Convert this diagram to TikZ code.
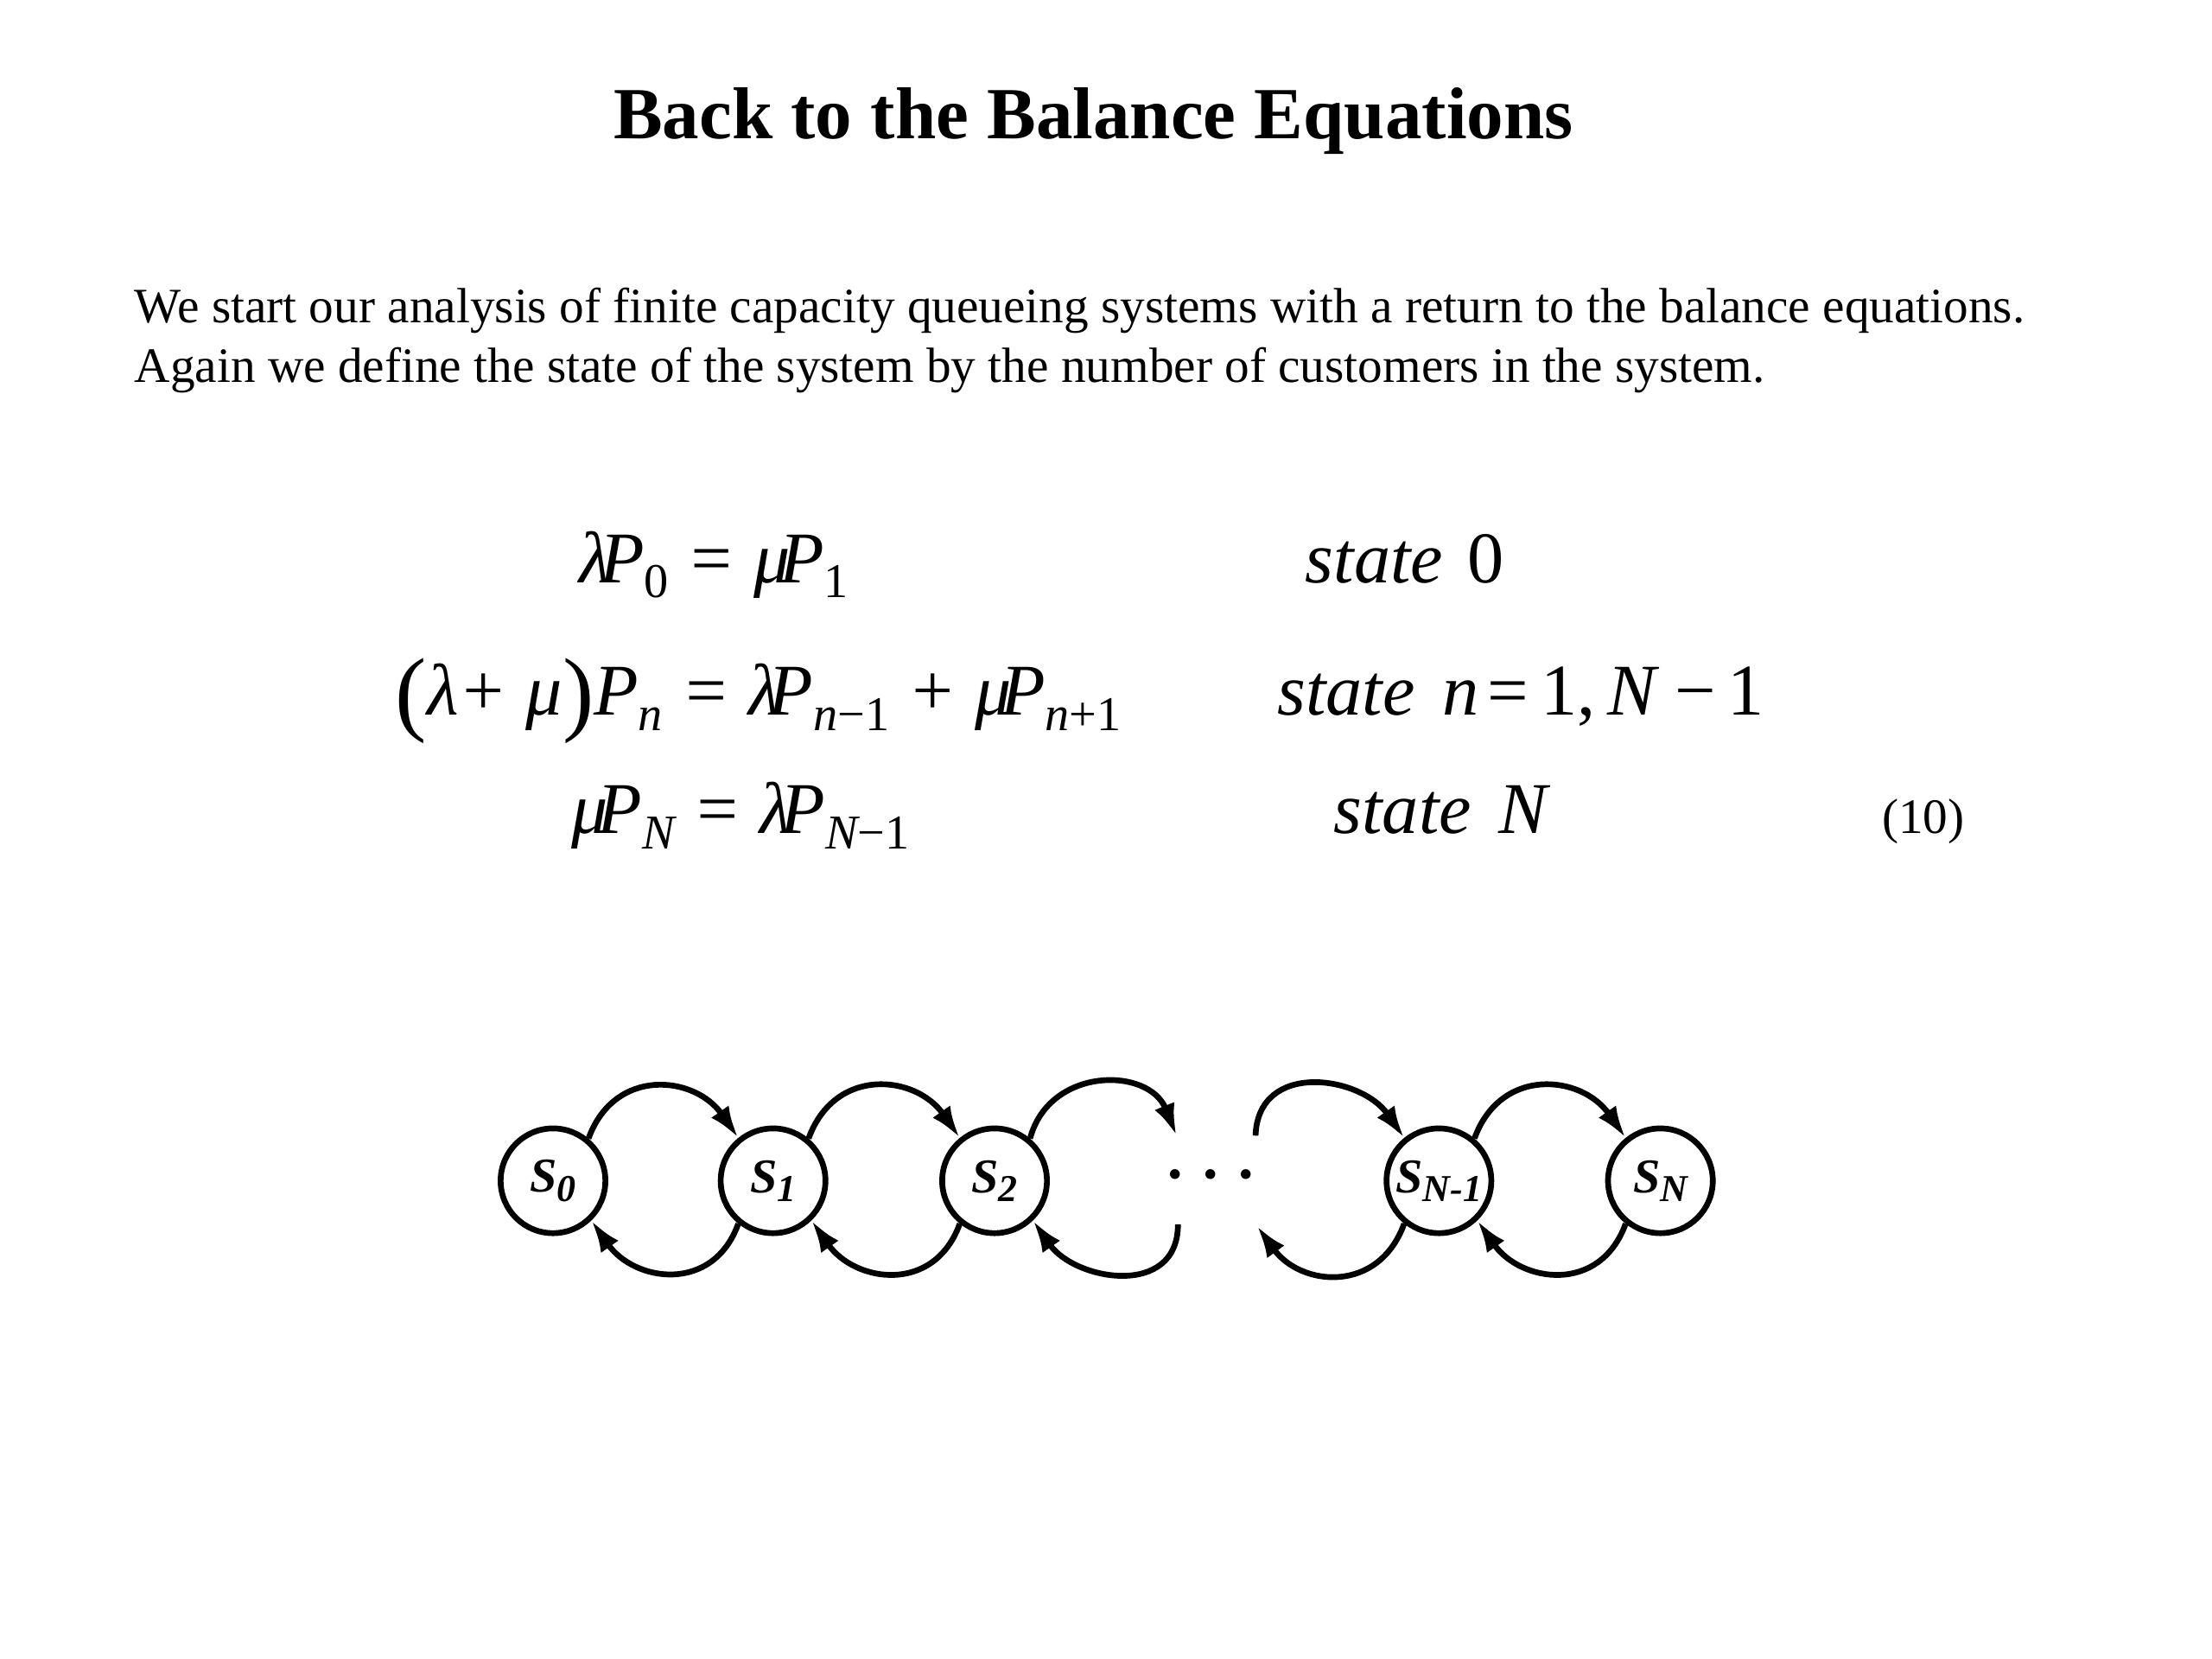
\documentclass[tikz,border=0pt]{standalone}
\usepackage{fontspec}
\setmainfont{Liberation Serif}
\usetikzlibrary{arrows.meta}

\newcommand{\lo}[1]{\raisebox{-0.45ex}{\fontsize{16}{16}\selectfont #1}}
\newcommand{\ssub}[1]{\raisebox{-0.4ex}{\fontsize{12.5}{12.5}\selectfont #1}}
\newcommand{\bigpar}[1]{\raisebox{-0.12em}{\fontsize{31}{31}\selectfont\upshape #1}}
\newcommand{\tuck}{\kern-0.15em}

\tikzset{
  state/.style={circle, draw, line width=1.9pt, minimum size=34.5pt, inner sep=0pt,
    font=\fontsize{16}{16}\selectfont\bfseries\itshape},
  flow/.style={line width=1.9pt, -{Latex[length=10.5pt,width=7pt]}},
  eqn/.style={anchor=base west, inner sep=0pt, font=\fontsize{24}{24}\selectfont\itshape},
}

\begin{document}
\begin{tikzpicture}[x=0.0163265cm,y=0.0163265cm]
  \useasboundingbox (0,0) rectangle (1568,-1176);

  \node[anchor=base, inner sep=0pt, font=\fontsize{24.2}{24.2}\selectfont\bfseries]
    (title) at (775,-98) {Back to the Balance Equations};

  \node[anchor=base west, inner sep=0pt, font=\fontsize{16.3}{19.6}\selectfont] (textA) at (95,-229)
    {We start our analysis of finite capacity queueing systems with a return to the balance equations.};
  \node[anchor=base west, inner sep=0pt, font=\fontsize{16.3}{19.6}\selectfont] (textB) at (95,-271)
    {Again we define the state of the system by the number of customers in the system.};

  % balance equations
  \node[eqn] (eqzero) at (410,-413) {λ\tuck P\lo{\upshape 0} = μ\tuck P\lo{\upshape 1}};
  \node[eqn] (eqmid) at (280,-507)
    {\bigpar{(}λ+ μ\bigpar{)}P\lo{n} = λ\tuck P\lo{n\upshape−1} + μ\tuck P\lo{n\upshape+1}};
  \node[eqn] (eqlast) at (405,-591) {μ\tuck P\lo{N} = λ\tuck P\lo{N\upshape−1}};

  \node[eqn] (stzero) at (925,-413) {state\kern8pt{\upshape 0}};
  \node[eqn] (stmid) at (905,-507)
    {state\kern9pt n\kern3pt{\upshape=\kern4pt1,}\kern4pt N\kern6pt{\upshape −\kern4pt1}};
  \node[eqn] (stlast) at (945,-591) {state\kern9pt N};

  \node[anchor=base east, inner sep=0pt, font=\fontsize{16.3}{16.3}\selectfont] (eqnum) at (1393,-591) {(10)};

  % state chain
  \node[state] (s0) at (392,-837) {S\ssub{0}};
  \node[state] (s1) at (548,-837) {S\ssub{1}};
  \node[state] (s2) at (705,-837) {S\ssub{2}};
  \node[font=\fontsize{20}{20}\selectfont\bfseries] (dots) at (858.5,-838) {·\kern5pt·\kern5pt·};
  \node[state] (snm) at (1020,-837) {S\ssub{N-1}};
  \node[state] (sn) at (1177,-837) {S\ssub{N}};

  \coordinate (gapa) at (834,-805);
  \coordinate (gapb) at (835,-868);
  \coordinate (gapc) at (890,-805);
  \coordinate (gapd) at (891,-869);

  \draw[flow] (s0.50) to[out=70,in=125,looseness=1.3] (s1.129);
  \draw[flow] (s1.231) to[out=-110,in=-55,looseness=1.3] (s0.314);
  \draw[flow] (s1.50) to[out=70,in=125,looseness=1.3] (s2.129);
  \draw[flow] (s2.231) to[out=-110,in=-55,looseness=1.3] (s1.314);
  \draw[flow] (s2.50) to[out=75,in=112,looseness=1.3] (gapa);
  \draw[flow] (gapb) to[out=-90,in=-55,looseness=1.3] (s2.314);
  \draw[flow] (gapc) to[out=88,in=125,looseness=1.3] (snm.129);
  \draw[flow] (snm.231) to[out=-110,in=-54,looseness=1.3] (gapd);
  \draw[flow] (snm.50) to[out=70,in=125,looseness=1.3] (sn.129);
  \draw[flow] (sn.231) to[out=-110,in=-55,looseness=1.3] (snm.314);
\end{tikzpicture}
\end{document}
